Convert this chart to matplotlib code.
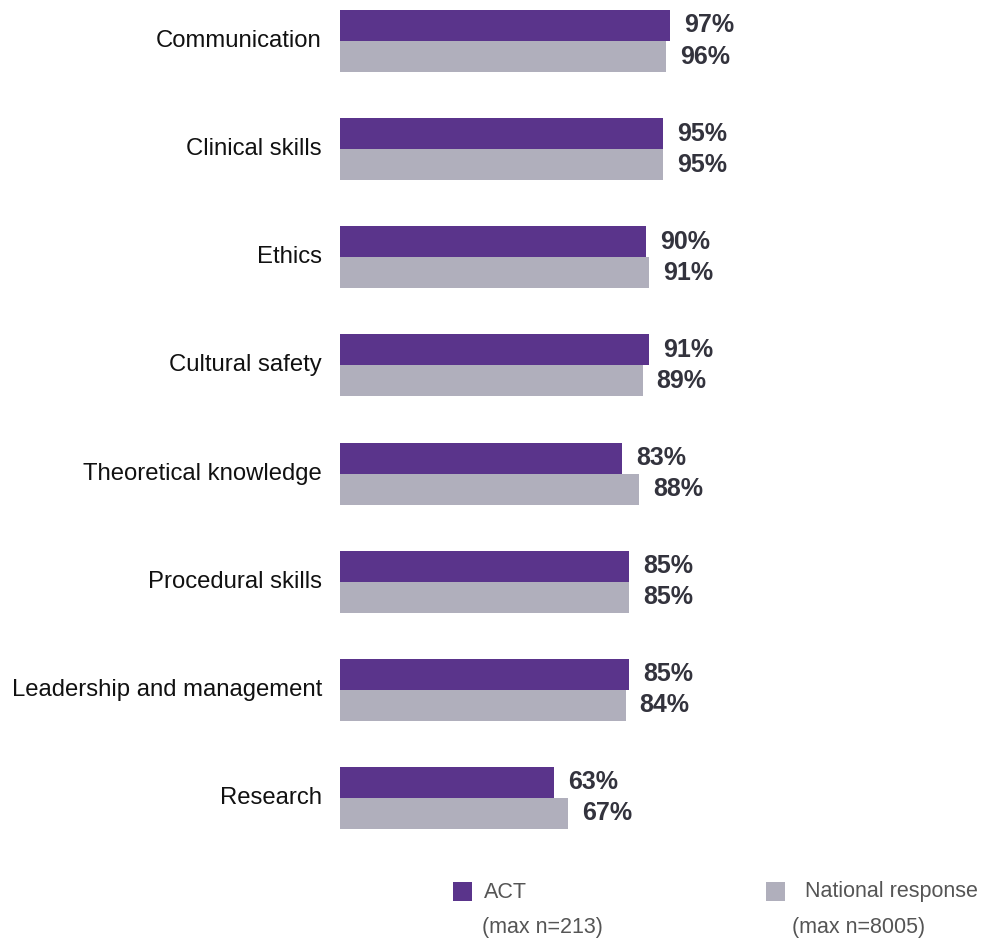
import matplotlib
matplotlib.use("Agg")
import matplotlib.pyplot as plt
from matplotlib.patches import Rectangle

plt.rcParams["font.family"] = ["Liberation Sans", "DejaVu Sans"]

categories = ["Communication", "Clinical skills", "Ethics", "Cultural safety",
              "Theoretical knowledge", "Procedural skills",
              "Leadership and management", "Research"]
act = [97, 95, 90, 91, 83, 85, 85, 63]
national = [96, 95, 91, 89, 88, 85, 84, 67]

C_ACT = "#5A348B"
C_NAT = "#B0AFBC"
C_TXT = "#33333D"

W, H = 981, 943
fig = plt.figure(figsize=(W / 100, H / 100), dpi=100)

# axes: x 0..100 -> 340px wide starting at px 340; category centre i at px 41 + 108.14*i
top_px, bot_px = 0, 852
ax = fig.add_axes([340 / W, (H - bot_px) / H, 340 / W, (bot_px - top_px) / H])
step = 108.14
ax.set_xlim(0, 100)
ax.set_ylim((bot_px - 41) / step, (top_px - 41) / step)
ax.axis("off")

bh = 31 / step
ys = list(range(len(categories)))
ax.barh([y - bh / 2 for y in ys], act, height=bh, color=C_ACT)
ax.barh([y + bh / 2 for y in ys], national, height=bh, color=C_NAT)

for y, a, n, cat in zip(ys, act, national, categories):
    ax.annotate(f"{a}%", (a, y - bh / 2), xytext=(10, 0), textcoords="offset points",
                ha="left", va="center", fontsize=18, fontweight="bold", color=C_TXT)
    ax.annotate(f"{n}%", (n, y + bh / 2), xytext=(10, 0), textcoords="offset points",
                ha="left", va="center", fontsize=18, fontweight="bold", color=C_TXT)
    ax.annotate(cat, (0, y), xytext=(-13, 0), textcoords="offset points",
                ha="right", va="center", fontsize=17.2, color="#111111")

# legend
def px(x, y):
    return x / W, 1 - y / H

fig.patches.append(Rectangle(px(453, 901), 19 / W, 19 / H, transform=fig.transFigure,
                             facecolor=C_ACT, edgecolor="none"))
fig.patches.append(Rectangle(px(766, 901), 19 / W, 19 / H, transform=fig.transFigure,
                             facecolor=C_NAT, edgecolor="none"))
fig.text(*px(484, 892), "ACT", ha="left", va="center", fontsize=15.5, color="#555555")
fig.text(*px(482, 927), "(max n=213)", ha="left", va="center", fontsize=15.5, color="#555555")
fig.text(*px(805, 892), "National response", ha="left", va="center", fontsize=15.5, color="#555555")
fig.text(*px(792, 927), "(max n=8005)", ha="left", va="center", fontsize=15.5, color="#555555")

fig.savefig("out.png", dpi=100, facecolor="white")
